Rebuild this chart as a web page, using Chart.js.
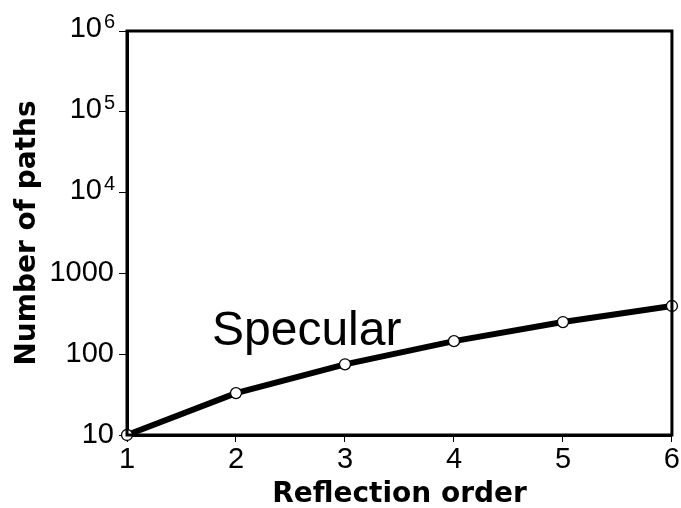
<!DOCTYPE html>
<html>
<head>
<meta charset="utf-8">
<script src="https://cdn.jsdelivr.net/npm/chart.js@4"></script>
<style>
  html, body { margin: 0; padding: 0; background: #fff; }
  #wrap { width: 681px; height: 508px; }
</style>
</head>
<body>
<div id="wrap"><canvas id="chart"></canvas></div>
<script>
// ================= DATA =================
const orders = [1, 2, 3, 4, 5, 6];
const specularPaths = [10, 33, 75, 145, 250, 395];
const yTickValues = [10, 100, 1000, 1e4, 1e5, 1e6];
const yTickLabels = ["10", "100", "1000", "", "", ""];
const yTickExponents = ["", "", "", "4", "5", "6"];
const seriesLabel = "Specular";

const SANS = "'Liberation Sans', Arial, sans-serif";

// ================= PLUGINS =================
const frame = {
  id: "frame",
  afterDatasetsDraw(chart) {
    const a = chart.chartArea, ctx = chart.ctx;
    ctx.save();
    ctx.strokeStyle = "#000";
    ctx.lineWidth = 3;
    ctx.strokeRect(a.left, a.top, a.right - a.left, a.bottom - a.top);
    ctx.restore();
  }
};

// powers of ten drawn as 10 with a raised exponent, placed from the y scale
const powerLabels = {
  id: "powerLabels",
  afterDraw(chart) {
    const y = chart.scales.y, ctx = chart.ctx;
    ctx.save();
    ctx.fillStyle = "#000";
    yTickValues.forEach((v, i) => {
      if (!yTickExponents[i]) return;
      const py = y.getPixelForValue(v);
      ctx.font = "29px " + SANS;
      ctx.textAlign = "right";
      ctx.textBaseline = "middle";
      ctx.fillText("10", y.right - 25, py - 2);
      ctx.font = "20px " + SANS;
      ctx.textAlign = "left";
      ctx.textBaseline = "alphabetic";
      ctx.fillText(yTickExponents[i], y.right - 23, py - 3);
    });
    ctx.restore();
  }
};

const curveLabel = {
  id: "curveLabel",
  afterDraw(chart) {
    const x = chart.scales.x, y = chart.scales.y, ctx = chart.ctx;
    ctx.save();
    ctx.fillStyle = "#000";
    ctx.font = "48px " + SANS;
    ctx.textBaseline = "alphabetic";
    ctx.fillText(seriesLabel, x.getPixelForValue(1.78), y.getPixelForValue(129));
    ctx.restore();
  }
};

// ================= CHART =================
const tickFont = { family: SANS, size: 29 };
const titleFont = { family: "'DejaVu Sans', Verdana, sans-serif", size: 28, weight: "bold" };

new Chart(document.getElementById("chart"), {
  type: "line",
  data: {
    datasets: [{
      label: seriesLabel,
      data: orders.map((o, i) => ({ x: o, y: specularPaths[i] })),
      borderColor: "#000",
      borderWidth: 6,
      pointRadius: 5.5,
      pointBackgroundColor: "#fff",
      pointBorderColor: "#000",
      pointBorderWidth: 1.3,
      clip: false,
      tension: 0
    }]
  },
  options: {
    responsive: true,
    maintainAspectRatio: false,
    animation: false,
    layout: { padding: { top: 31, right: 9, left: 0, bottom: 0 } },
    plugins: { legend: { display: false }, tooltip: { enabled: false } },
    scales: {
      x: {
        type: "linear",
        min: 1, max: 6,
        afterFit(s) { s.height = 508 - 435; },
        ticks: { stepSize: 1, color: "#000", font: tickFont, padding: 1 },
        grid: { drawOnChartArea: false, drawTicks: true, tickLength: 7, tickColor: "#000", tickWidth: 1 },
        border: { display: true, color: "#000", width: 3 },
        title: { display: true, text: "Reflection order", color: "#000", font: titleFont, padding: { top: 0, bottom: -4 } }
      },
      y: {
        type: "logarithmic",
        min: 10, max: 1e6,
        afterFit(s) { s.width = 127; },
        afterBuildTicks(s) { s.ticks = yTickValues.map(v => ({ value: v })); },
        ticks: {
          color: "#000", font: tickFont, padding: 5,
          callback(v) { const i = yTickValues.indexOf(v); return i >= 0 ? yTickLabels[i] : ""; }
        },
        grid: { drawOnChartArea: false, drawTicks: true, tickLength: 8, tickColor: "#000", tickWidth: 1 },
        border: { display: true, color: "#000", width: 3 },
        title: { display: true, text: "Number of paths", color: "#000", font: titleFont, padding: { top: 11, bottom: 0 } }
      }
    }
  },
  plugins: [frame, powerLabels, curveLabel]
});
</script>
</body>
</html>
